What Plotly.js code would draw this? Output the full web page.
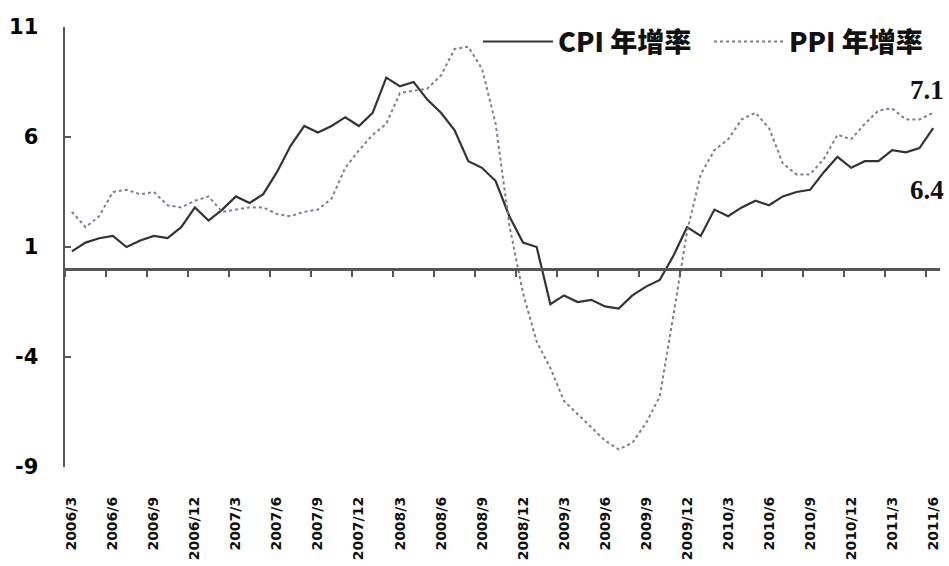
<!DOCTYPE html>
<html>
<head>
<meta charset="utf-8">
<script src="https://cdn.plot.ly/plotly-3.0.1.min.js"></script>
<style>html,body{margin:0;padding:0;background:#fff;}#chart{width:949px;height:566px;}</style>
</head>
<body>
<div id="chart"></div>
<script>
// Months (2006/3 .. 2011/6)
const months = [
  "2006/3","2006/4","2006/5","2006/6","2006/7","2006/8","2006/9","2006/10","2006/11","2006/12",
  "2007/1","2007/2","2007/3","2007/4","2007/5","2007/6","2007/7","2007/8","2007/9","2007/10","2007/11","2007/12",
  "2008/1","2008/2","2008/3","2008/4","2008/5","2008/6","2008/7","2008/8","2008/9","2008/10","2008/11","2008/12",
  "2009/1","2009/2","2009/3","2009/4","2009/5","2009/6","2009/7","2009/8","2009/9","2009/10","2009/11","2009/12",
  "2010/1","2010/2","2010/3","2010/4","2010/5","2010/6","2010/7","2010/8","2010/9","2010/10","2010/11","2010/12",
  "2011/1","2011/2","2011/3","2011/4","2011/5","2011/6"
];
// CPI year-on-year growth (%)
const cpi = [
  0.8,1.2,1.4,1.5,1.0,1.3,1.5,1.4,1.9,2.8,
  2.2,2.7,3.3,3.0,3.4,4.4,5.6,6.5,6.2,6.5,6.9,6.5,
  7.1,8.7,8.3,8.5,7.7,7.1,6.3,4.9,4.6,4.0,2.4,1.2,
  1.0,-1.6,-1.2,-1.5,-1.4,-1.7,-1.8,-1.2,-0.8,-0.5,0.6,1.9,
  1.5,2.7,2.4,2.8,3.1,2.9,3.3,3.5,3.6,4.4,5.1,4.6,
  4.9,4.9,5.4,5.3,5.5,6.4
];
// PPI year-on-year growth (%)
const ppi = [
  2.6,1.9,2.4,3.5,3.6,3.4,3.5,2.9,2.8,3.1,
  3.3,2.6,2.7,2.8,2.8,2.5,2.4,2.6,2.7,3.2,4.6,5.4,
  6.1,6.6,8.0,8.1,8.2,8.8,10.0,10.1,9.1,6.6,2.0,-1.1,
  -3.3,-4.5,-6.0,-6.6,-7.2,-7.8,-8.2,-7.9,-7.0,-5.8,-2.1,1.7,
  4.3,5.4,5.9,6.8,7.1,6.4,4.8,4.3,4.3,5.0,6.1,5.9,
  6.6,7.2,7.3,6.8,6.8,7.1
];
const seriesNames = ["CPI 年增率", "PPI 年增率"];
// Tick labels every 3 months
const tickLabels = [
  "2006/3","2006/6","2006/9","2006/12","2007/3","2007/6","2007/9","2007/12",
  "2008/3","2008/6","2008/9","2008/12","2009/3","2009/6","2009/9","2009/12",
  "2010/3","2010/6","2010/9","2010/12","2011/3","2011/6"
];
const yTicks = [-9, -4, 1, 6, 11];
const yTickText = ["-9", "-4", "1", "6", "11"];

const idx = tickLabels.map(l => months.indexOf(l));
const boundaryTicks = idx.map(i => i - 0.5);
const nMonths = months.length;
const last = nMonths - 1;

const traces = [
  {
    x: months, y: cpi, name: seriesNames[0], type: "scatter", mode: "lines",
    line: {color: "#333333", width: 2.2}
  },
  {
    x: months, y: ppi, name: seriesNames[1], type: "scatter", mode: "lines",
    line: {color: "#7c7c98", width: 2, dash: "dot"}
  },
  {
    x: [], y: [], xaxis: "x2", yaxis: "y", showlegend: false, hoverinfo: "skip",
    type: "scatter", mode: "lines"
  }
];

const axisColor = "#555555";
const layout = {
  width: 949, height: 566,
  margin: {l: 65, r: 9, t: 27, b: 99, pad: 0},
  paper_bgcolor: "#ffffff", plot_bgcolor: "#ffffff",
  showlegend: true,
  legend: {
    orientation: "h", x: 1.0, xanchor: "right", y: 0.966, yanchor: "middle",
    font: {family: "Noto Sans CJK SC", size: 27, color: "#111111", weight: 900},
    itemwidth: 70, entrywidth: 146, entrywidthmode: "pixels",
    bgcolor: "rgba(0,0,0,0)", borderwidth: 0
  },
  xaxis: {
    type: "category", range: [-0.5, nMonths - 0.5],
    tickmode: "array", tickvals: tickLabels, ticktext: tickLabels,
    tickangle: -90, ticks: "", showline: false, showgrid: false, zeroline: false,
    tickfont: {family: "DejaVu Sans", size: 14, color: "#111111", weight: "bold"},
    ticklabelstandoff: 26, fixedrange: true
  },
  xaxis2: {
    overlaying: "x", anchor: "free", position: 0.45, type: "linear",
    range: [-0.5, nMonths - 0.5],
    tickmode: "array", tickvals: boundaryTicks, showticklabels: false,
    ticks: "outside", ticklen: 6, tickwidth: 2, tickcolor: axisColor,
    showline: true, linecolor: axisColor, linewidth: 2.5,
    showgrid: false, zeroline: false, fixedrange: true
  },
  yaxis: {
    range: [-9, 11], tickmode: "array", tickvals: yTicks, ticktext: yTickText,
    ticks: "inside", ticklen: 6, tickwidth: 2, tickcolor: axisColor,
    showline: true, linecolor: axisColor, linewidth: 2.5,
    showgrid: false, zeroline: false,
    tickfont: {family: "DejaVu Sans", size: 21, color: "#000000", weight: "bold"},
    ticklabelstandoff: 20, fixedrange: true
  },
  annotations: [
    {
      x: months[last], y: ppi[last], xref: "x", yref: "y", text: ppi[last].toFixed(1),
      showarrow: false, yshift: 23, xshift: -6,
      font: {family: "Liberation Serif", size: 27, color: "#111111", weight: "bold"}
    },
    {
      x: months[last], y: cpi[last], xref: "x", yref: "y", text: cpi[last].toFixed(1),
      showarrow: false, yshift: -62, xshift: -6,
      font: {family: "Liberation Serif", size: 27, color: "#111111", weight: "bold"}
    }
  ]
};

Plotly.newPlot("chart", traces, layout, {displayModeBar: false, staticPlot: true});
</script>
</body>
</html>
